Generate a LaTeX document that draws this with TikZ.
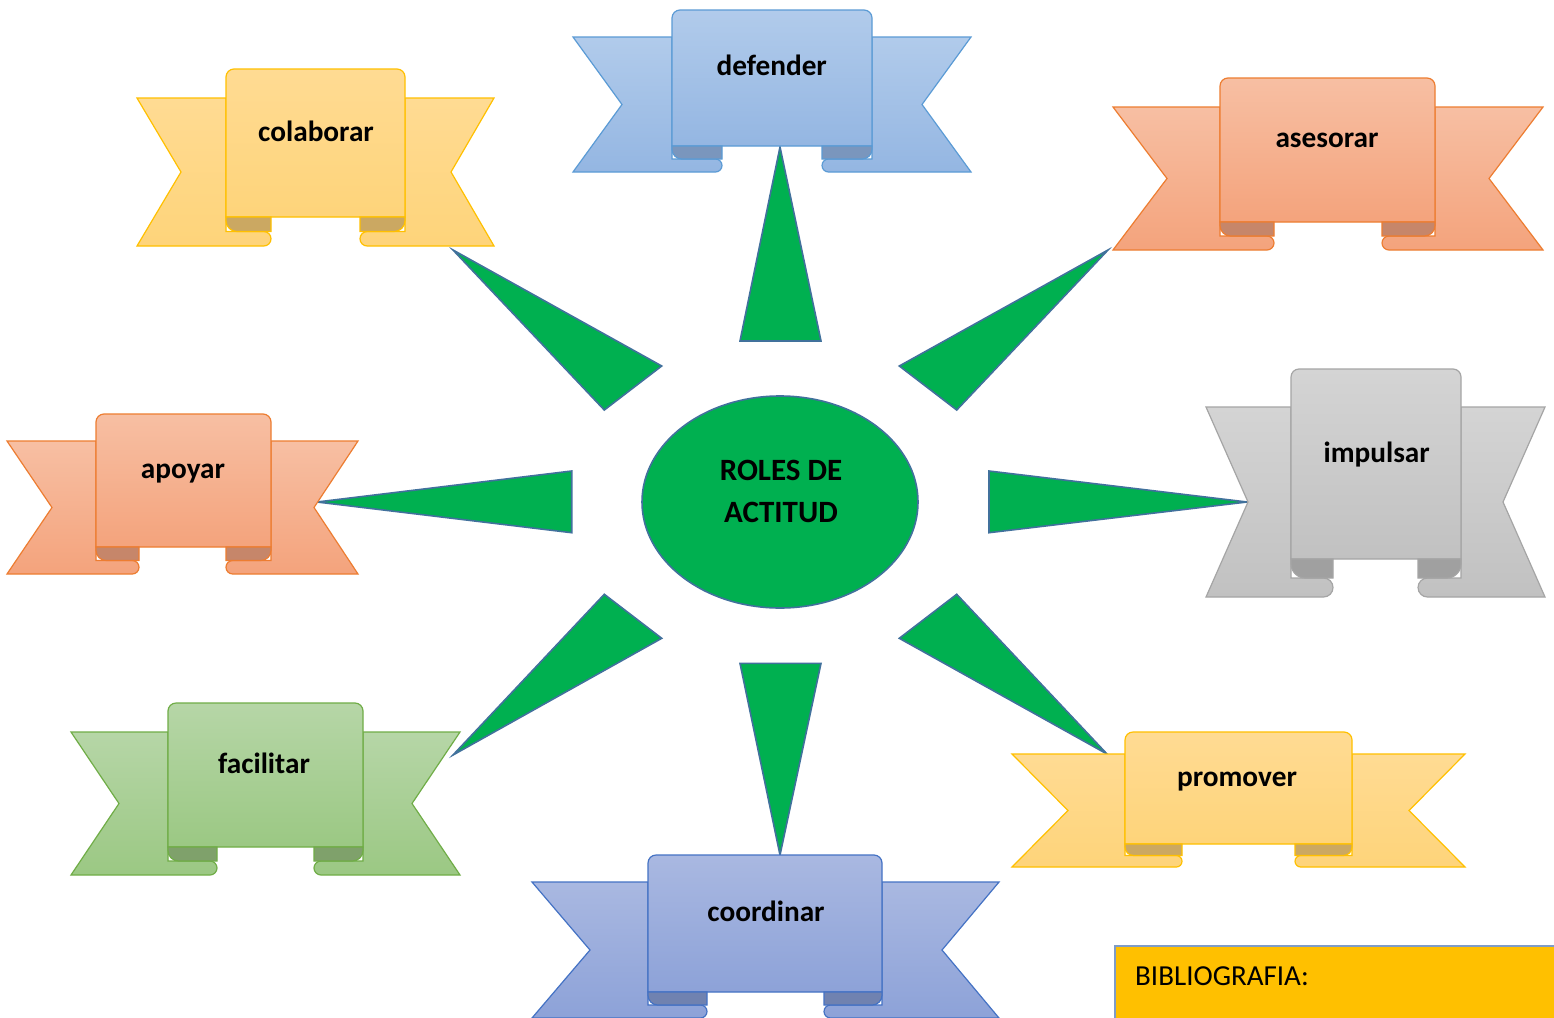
\documentclass[tikz,border=0pt]{standalone}
\usepackage{fontspec}
\setmainfont{Carlito}
\usetikzlibrary{shapes.geometric}
\definecolor{spkfill}{HTML}{00B050}
\definecolor{spkline}{HTML}{41719C}
\definecolor{bibfill}{HTML}{FFC000}
\definecolor{bibline}{HTML}{7F9CC7}
\newcommand\schemeYellow{\definecolor{rtop}{HTML}{FFDB93}\definecolor{rbot}{HTML}{FED47A}\definecolor{rline}{HTML}{FFC000}\definecolor{rcurl}{HTML}{CBA862}}
\newcommand\schemeBlue{\definecolor{rtop}{HTML}{B1CBEB}\definecolor{rbot}{HTML}{94B6E2}\definecolor{rline}{HTML}{5B9BD5}\definecolor{rcurl}{HTML}{7A96BD}}
\newcommand\schemeOrange{\definecolor{rtop}{HTML}{F7BFA3}\definecolor{rbot}{HTML}{F4A37C}\definecolor{rline}{HTML}{ED7D31}\definecolor{rcurl}{HTML}{C6866A}}
\newcommand\schemeGrey{\definecolor{rtop}{HTML}{D4D4D4}\definecolor{rbot}{HTML}{C1C1C1}\definecolor{rline}{HTML}{A5A5A5}\definecolor{rcurl}{HTML}{A0A0A0}}
\newcommand\schemeGreen{\definecolor{rtop}{HTML}{B6D6A7}\definecolor{rbot}{HTML}{9BC883}\definecolor{rline}{HTML}{70AD47}\definecolor{rcurl}{HTML}{7FA16B}}
\newcommand\schemeIndigo{\definecolor{rtop}{HTML}{A9B8E1}\definecolor{rbot}{HTML}{8DA2D8}\definecolor{rline}{HTML}{4472C4}\definecolor{rcurl}{HTML}{7082B0}}
% band: L R NL NR BT BB
\newcommand\ribbonband[6]{\def\rL{#1}\def\rR{#2}\def\rNL{#3}\def\rNR{#4}\def\rBT{#5}\def\rBB{#6}}
% panel: PL PR TL TR PT PB
\newcommand\ribbonpanel[6]{\def\rPL{#1}\def\rPR{#2}\def\rTL{#3}\def\rTR{#4}\def\rPT{#5}\def\rPB{#6}}
% scheme, node name, text, text x, text baseline y
\newcommand\drawribbon[5]{%
\begin{scope}
\csname scheme#1\endcsname
\pgfmathsetmacro\rMid{-(\rBT+\rBB)/2}
\pgfmathsetmacro\rH{(\rBB-\rPB)/2}
\pgfmathsetmacro\rC{-(\rPB+\rH)}
\pgfmathsetmacro\rT{\rH/2}
\pgfmathsetmacro\rK{\rH*0.75}
% left band
\path[bandpart] (\rL,-\rBT) -- (\rPL,-\rBT) -- (\rPL,\rC) -- (\rTL-\rT,\rC)
  arc[start angle=90,end angle=-90,radius=\rT pt] -- (\rL,-\rBB) -- (\rNL,\rMid) -- cycle;
% right band
\path[bandpart] (\rR,-\rBT) -- (\rPR,-\rBT) -- (\rPR,\rC) -- (\rTR+\rT,\rC)
  arc[start angle=90,end angle=270,radius=\rT pt] -- (\rR,-\rBB) -- (\rNR,\rMid) -- cycle;
% panel
\path[bandpart] (\rPL,-\rPB) -- (\rPL,-\rPT-8) arc[start angle=180,end angle=90,radius=8pt]
  -- (\rPR-8,-\rPT) arc[start angle=90,end angle=0,radius=8pt] -- (\rPR,-\rPB) -- cycle;
% curls
\path[curlpart] (\rPL,-\rPB) -- (\rTL,-\rPB) -- (\rTL,\rC) -- (\rPL+\rK,\rC)
  arc[start angle=270,end angle=180,radius=\rK pt] -- cycle;
\path[curlpart] (\rPR,-\rPB) -- (\rTR,-\rPB) -- (\rTR,\rC) -- (\rPR-\rK,\rC)
  arc[start angle=270,end angle=360,radius=\rK pt] -- cycle;
\node (#2) [label text] at (#4,-#5) {#3};
\end{scope}}
\begin{document}
\begin{tikzpicture}[x=1pt,y=1pt,
  bandpart/.style={top color=rtop,bottom color=rbot,draw=rline,line width=1.2pt,line join=miter},
  curlpart/.style={fill=rcurl,draw=rline,line width=1.2pt},
  label text/.style={anchor=base,inner sep=0pt,font=\bfseries\fontsize{29.3}{35}\selectfont},
  spike/.style={fill=spkfill,draw=spkline,line width=1.6pt,line join=miter},
  center text/.style={anchor=base,inner sep=0pt,font=\bfseries\fontsize{31}{36}\selectfont}]
\useasboundingbox (0,0) rectangle (1554,-1017);
\clip (0,0) rectangle (1554,-1017);
\fill[white] (0,0) rectangle (1554,-1017);
% spikes
\coordinate (tT) at (780,-147);
\coordinate (tTL) at (453,-250);
\coordinate (tTR) at (1108,-250);
\coordinate (tL) at (317,-502);
\coordinate (tR) at (1247,-502);
\coordinate (tBL) at (453,-755);
\coordinate (tBR) at (1107,-754);
\coordinate (tB) at (780,-855);
\path[spike] (740,-341) -- (821,-341) -- (tT) -- cycle;
\path[spike] (661.7,-366) -- (604.3,-410) -- (tTL) -- cycle;
\path[spike] (899.3,-366) -- (956.7,-410) -- (tTR) -- cycle;
\path[spike] (571.7,-471) -- (571.7,-532.7) -- (tL) -- cycle;
\path[spike] (989,-471) -- (989,-532.7) -- (tR) -- cycle;
\path[spike] (661.7,-638.3) -- (604.3,-594.3) -- (tBL) -- cycle;
\path[spike] (899.3,-638.3) -- (956.7,-594.3) -- (tBR) -- cycle;
\path[spike] (740,-663.3) -- (821,-663.3) -- (tB) -- cycle;
% centre
\node (roles) [ellipse,fill=spkfill,draw=spkline,line width=1.6pt,minimum width=276pt,minimum height=212pt,inner sep=0pt] at (780,-502) {};
\node (rolesA) [center text] at (781,-480) {ROLES DE};
\node (rolesB) [center text] at (781,-522.7) {ACTITUD};
% ribbons
\ribbonband{137}{494}{181}{451}{98}{246}\ribbonpanel{226}{405}{271}{360}{69}{217}
\drawribbon{Yellow}{colaborar}{colaborar}{316}{141.5}
\ribbonband{573}{971}{622}{922}{37}{172}\ribbonpanel{672}{872}{722}{822}{10}{146}
\drawribbon{Blue}{defender}{defender}{771.7}{75}
\ribbonband{1113}{1543}{1167}{1489}{107}{250}\ribbonpanel{1220}{1435}{1274}{1382}{78}{222}
\drawribbon{Orange}{asesorar}{asesorar}{1327}{147}
\ribbonband{7}{358}{52}{314}{441}{574}\ribbonpanel{96}{271}{139}{226}{414}{547}
\drawribbon{Orange}{apoyar}{apoyar}{183}{478}
\ribbonband{1206}{1545}{1248}{1503}{407}{597}\ribbonpanel{1291}{1461}{1333}{1418}{369}{559}
\drawribbon{Grey}{impulsar}{impulsar}{1376.7}{462}
\ribbonband{71}{460}{119}{412}{732}{875}\ribbonpanel{168}{363}{217}{314}{703}{847}
\drawribbon{Green}{facilitar}{facilitar}{264}{773}
\ribbonband{1012}{1465}{1068}{1409}{754}{867}\ribbonpanel{1125}{1352}{1182}{1295}{732}{844}
\drawribbon{Yellow}{promover}{promover}{1237}{786}
\ribbonband{532}{999}{590}{942}{882}{1018}\ribbonpanel{648}{882}{707}{824}{855}{992}
\drawribbon{Indigo}{coordinar}{coordinar}{766}{921}
% bibliografia
\path[fill=bibfill,draw=bibline,line width=1.2pt] (1115,-946) rectangle (1570,-1030);
\node (biblio) [anchor=base west,inner sep=0pt,font=\fontsize{29}{35}\selectfont] at (1135,-985) {BIBLIOGRAFIA:};
\end{tikzpicture}
\end{document}
